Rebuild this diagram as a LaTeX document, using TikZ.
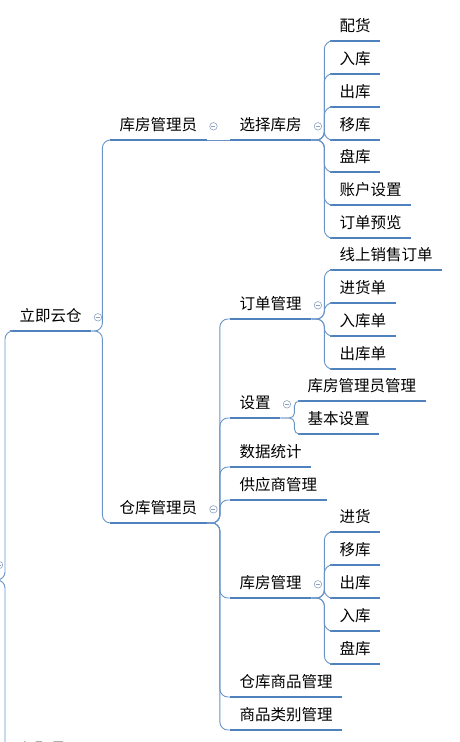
\documentclass[tikz,border=0pt]{standalone}
\usepackage{fontspec}
\newfontfamily\cjk{Noto Sans CJK SC}
\usetikzlibrary{positioning, calc}
\definecolor{mapblue}{RGB}{79,129,189}
\definecolor{foldgray}{RGB}{140,160,192}

\begin{document}
\begin{tikzpicture}[
    x=1pt, y=-1pt,
    topic/.style={anchor=south west, inner xsep=9.5pt, inner ysep=6pt, text height=12pt, text depth=3pt, font=\cjk\fontsize{15.5}{18}\selectfont},
    uline/.style={draw=mapblue, line width=2.2pt},
    conn/.style={draw=mapblue!85, line width=0.9pt, rounded corners=8pt},
    fold/.style={circle, draw=foldgray, line width=0.6pt, inner sep=0pt, minimum size=7.5pt,
        path picture={\draw[foldgray, line width=0.6pt] ([xshift=-2pt]path picture bounding box.center) -- ([xshift=2pt]path picture bounding box.center);}}
]
\useasboundingbox (0,0) rectangle (459,742);
\clip (0,0) rectangle (459,742);

% main topics
\node[topic] (root) at (10,331) {立即云仓};
\node[topic] (kfgly) at (110,140) {库房管理员};
\node[topic] (xzkf) at (230,140) {选择库房};
\node[topic] (ckgly) at (110,523) {仓库管理员};
\node[topic] (ddgl) at (230,319) {订单管理};
\node[topic] (shezhi) at (230,418) {设置};
\node[topic] (sjtj) at (230,467) {数据统计};
\node[topic] (gysgl) at (230,500) {供应商管理};
\node[topic] (kfgl) at (230,598) {库房管理};
\node[topic] (ckspgl) at (230,697) {仓库商品管理};
\node[topic] (splbgl) at (230,730) {商品类别管理};
\node[topic] (rzyg) at (10,764) {入职员工};

\foreach \n in {root, kfgly, xzkf, ckgly, ddgl, shezhi, sjtj, gysgl, kfgl, ckspgl, splbgl, rzyg}
    \draw[uline] (\n.south west) -- (\n.south east);

% fold markers
\node[fold, right=2.5pt of root] (rootfold) {};
\node[fold, right=2.5pt of kfgly] (kfglyfold) {};
\node[fold, right=2.5pt of xzkf] (xzkffold) {};
\node[fold, right=2.5pt of ckgly] (ckglyfold) {};
\node[fold, right=2.5pt of ddgl] (ddglfold) {};
\node[fold, right=2.5pt of shezhi] (shezhifold) {};
\node[fold, right=2.5pt of kfgl] (kfglfold) {};

% parent outside the picture
\coordinate (upper) at (-4,580);
\node[fold] (upperfold) at (-1,565) {};
\draw[conn] (upper) -- ++(9,0) |- (root.south west);
\draw[conn] (upper) -- ++(9,0) |- (rzyg.south west);

% connectors
\draw[conn] (root.south east) -- ++(11,0) |- (kfgly.south west);
\draw[conn] (root.south east) -- ++(11,0) |- (ckgly.south west);
\draw[conn] (kfgly.south east) -- (xzkf.south west);
\foreach \n in {ddgl, shezhi, sjtj, gysgl, kfgl, ckspgl, splbgl}
    \draw[conn] (ckgly.south east) -- ++(13,0) |- (\n.south west);

% leaves
\foreach \t/\y [count=\i] in {配货/41, 入库/74, 出库/107, 移库/140, 盘库/172, 账户设置/205, 订单预览/238} {
    \node[topic] (xz\i) at (330,\y) {\t};
    \draw[uline] (xz\i.south west) -- (xz\i.south east);
    \draw[conn] (xzkf.south east) -- ++(13,0) |- (xz\i.south west);
}
\foreach \t/\y [count=\i] in {线上销售订单/270, 进货单/303, 入库单/336, 出库单/369} {
    \node[topic] (dd\i) at (330,\y) {\t};
    \draw[uline] (dd\i.south west) -- (dd\i.south east);
    \draw[conn] (ddgl.south east) -- ++(13,0) |- (dd\i.south west);
}
\foreach \t/\y [count=\i] in {库房管理员管理/401, 基本设置/434} {
    \node[topic] (sz\i) at (298,\y) {\t};
    \draw[uline] (sz\i.south west) -- (sz\i.south east);
    \draw[conn, rounded corners=5pt] (shezhi.south east) -- ++(14,0) |- (sz\i.south west);
}
\foreach \t/\y [count=\i] in {进货/532, 移库/565, 出库/598, 入库/631, 盘库/664} {
    \node[topic] (kf\i) at (330,\y) {\t};
    \draw[uline] (kf\i.south west) -- (kf\i.south east);
    \draw[conn] (kfgl.south east) -- ++(13,0) |- (kf\i.south west);
}
\end{tikzpicture}
\end{document}
